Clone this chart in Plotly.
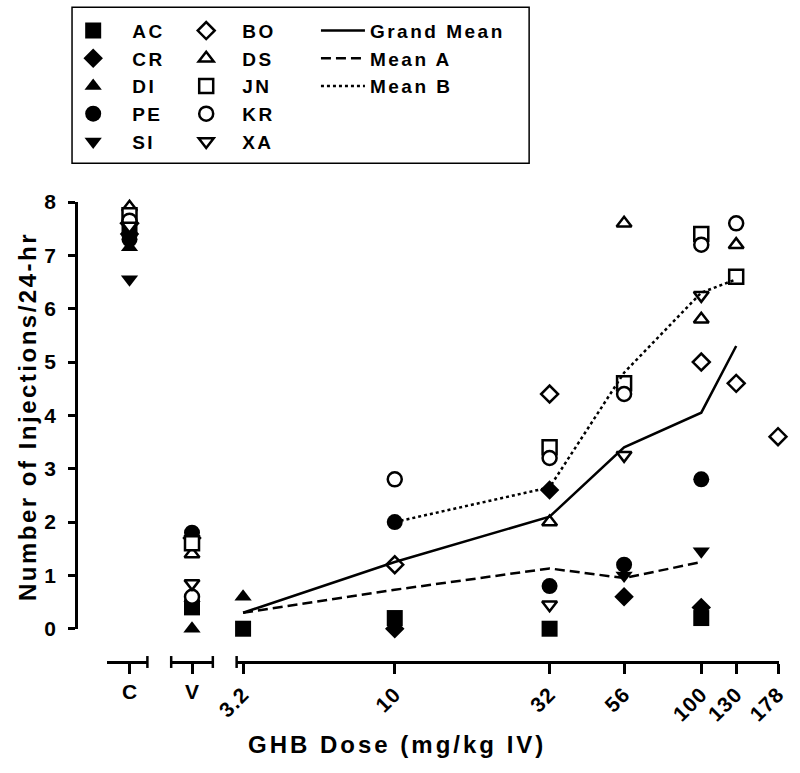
import plotly.graph_objects as go

# ---------------- data ----------------
doses = [3.2, 10, 32, 56, 100, 130, 178]
dose_labels = ["3.2", "10", "32", "56", "100", "130", "178"]

# group A (filled symbols)
AC = [0.0, 0.2, 0.0, None, 0.2, None, None]
CR = [None, 0.0, 2.6, 0.6, 0.4, None, None]
DI = [0.6, None, None, None, None, None, None]
PE = [None, 2.0, 0.8, 1.2, 2.8, None, None]
SI = [None, None, None, 1.0, 1.45, None, None]
# group B (open symbols)
BO = [None, 1.2, 4.4, None, 5.0, 4.6, 3.6]
DS = [None, None, 2.0, 7.6, 5.8, 7.2, None]
JN = [None, None, 3.4, 4.6, 7.4, 6.6, None]
KR = [None, 2.8, 3.2, 4.4, 7.2, 7.6, None]
XA = [None, None, 0.45, 3.25, 6.25, None, None]

subjects = ["AC", "CR", "DI", "PE", "SI", "BO", "DS", "JN", "KR", "XA"]
# control (C) and vehicle (V) values, same order as subjects
control_vals = [7.5, 7.4, 7.15, 7.3, 6.55, 7.6, 7.9, 7.75, 7.65, 7.55]
vehicle_vals = [0.4, 1.7, 0.0, 1.8, 0.45, None, 1.4, 1.6, 0.6, 0.85]

grand_mean = [0.3, 1.25, 2.1, 3.4, 4.05, 5.3]      # 3.2 .. 130
mean_a = [0.3, 0.73, 1.13, 0.95, 1.25]              # 3.2 .. 100
mean_b = [2.0, 2.65, 4.8, 6.3, 6.55]                # 10 .. 130

symbols = ["square", "diamond", "triangle-up", "circle", "triangle-down",
           "diamond", "triangle-up", "square", "circle", "triangle-down"]
dose_series = [AC, CR, DI, PE, SI, BO, DS, JN, KR, XA]

# ---------------- geometry helpers (pixels) ----------------
W, H = 800, 773
L, R, T, B = 76, 15, 199, 111
PW, PH = W - L - R, H - T - B


def px(xp):
    return (xp - L) / PW


def py(yp):
    return (H - B - yp) / PH


FONT = "Liberation Sans, Arial, sans-serif"


def ls(text, sp):
    return '<span style="letter-spacing:%gpx">%s</span>' % (sp, text)


fig = go.Figure()

for i, name in enumerate(subjects):
    filled = i < 5
    sym = symbols[i]
    size = 16 if sym in ("square", "circle") else 15
    if filled:
        marker = dict(symbol=sym, size=size, color="black", line=dict(width=0))
    else:
        marker = dict(symbol=sym, size=size - 2, color="white",
                      line=dict(width=2.5, color="black"))
    leg = "legend" if filled else "legend2"
    fig.add_trace(go.Scatter(
        x=doses, y=dose_series[i], mode="markers", marker=marker,
        name=ls(name, 2.5), legendgroup=name, legend=leg, showlegend=True,
        xaxis="x3", yaxis="y", cliponaxis=False, hoverinfo="skip"))
    fig.add_trace(go.Scatter(
        x=["C"], y=[control_vals[i]], mode="markers", marker=marker,
        legendgroup=name, showlegend=False, xaxis="x", yaxis="y",
        cliponaxis=False, hoverinfo="skip"))
    if vehicle_vals[i] is not None:
        fig.add_trace(go.Scatter(
            x=["V"], y=[vehicle_vals[i]], mode="markers", marker=marker,
            legendgroup=name, showlegend=False, xaxis="x2", yaxis="y",
            cliponaxis=False, hoverinfo="skip"))

fig.add_trace(go.Scatter(
    x=doses[:6], y=grand_mean, mode="lines", name=ls("Grand Mean", 2.5),
    line=dict(color="black", width=2.5), legend="legend3", legendgroup="gm",
    xaxis="x3", yaxis="y", hoverinfo="skip"))
fig.add_trace(go.Scatter(
    x=doses[:5], y=mean_a, mode="lines", name=ls("Mean A", 2.5),
    line=dict(color="black", width=2.5, dash="10px,5px"), legend="legend3",
    legendgroup="ma", xaxis="x3", yaxis="y", hoverinfo="skip"))
fig.add_trace(go.Scatter(
    x=doses[1:6], y=mean_b, mode="lines", name=ls("Mean B", 2.5),
    line=dict(color="black", width=2.5, dash="3px,3px"), legend="legend3",
    legendgroup="mb", xaxis="x3", yaxis="y", hoverinfo="skip"))

axis_common = dict(
    showline=True, linecolor="black", linewidth=2.5, ticks="outside",
    ticklen=10, tickwidth=2.5, tickcolor="black", showgrid=False,
    zeroline=False, anchor="free", position=0, fixedrange=True,
    tickfont=dict(family=FONT, size=21, color="black", weight="bold"))

legend_common = dict(
    font=dict(family=FONT, size=19, color="black", weight="bold"),
    bgcolor="rgba(0,0,0,0)", borderwidth=0, xanchor="left", yanchor="top",
    tracegroupgap=0, orientation="v")

fig.update_layout(
    width=W, height=H,
    margin=dict(l=L, r=R, t=T, b=B, pad=0),
    plot_bgcolor="white", paper_bgcolor="white",
    xaxis=dict(domain=[px(107), px(148)], type="category",
               range=[-0.56, 0.44], tickangle=0, **axis_common),
    xaxis2=dict(domain=[px(172), px(214)], type="category",
                range=[-0.5, 0.5], tickangle=0, **axis_common),
    xaxis3=dict(domain=[px(238), 1.0], type="log",
                range=[0.4841, 2.2536], tickvals=doses,
                ticktext=[ls(t, 1) for t in dose_labels], tickangle=-45,
                **axis_common),
    yaxis=dict(domain=[py(628.5), 1.0], range=[0, 8], dtick=1,
               showline=True, linecolor="black", linewidth=2.5,
               ticks="outside", ticklen=7, tickwidth=2.5, tickcolor="black",
               showgrid=False, zeroline=False, anchor="free", position=0,
               fixedrange=True, ticklabelstandoff=8,
               tickfont=dict(family=FONT, size=21, color="black",
                             weight="bold")),
    legend=dict(x=px(54), y=py(7.5), itemwidth=68, **legend_common),
    legend2=dict(x=px(171), y=py(7.5), itemwidth=62, **legend_common),
    legend3=dict(x=px(318), y=py(7.5), itemwidth=44, **legend_common),
    showlegend=True,
)

# legend frame
fig.add_shape(type="rect", xref="paper", yref="paper",
              x0=px(72), x1=px(533), y0=py(160), y1=py(3),
              line=dict(color="black", width=1.5), fillcolor="rgba(0,0,0,0)")

# end caps of the broken x-axis segments
cap = 6 / PH
for ref, xs in (("x domain", [1]), ("x2 domain", [0, 1]), ("x3 domain", [0])):
    for xv in xs:
        fig.add_shape(type="line", xref=ref, yref="paper", x0=xv, x1=xv,
                      y0=-cap, y1=cap, line=dict(color="black", width=2.5))

fig.add_annotation(
    text=ls("GHB Dose (mg/kg IV)", 3), x=px(400), y=py(745),
    xref="paper", yref="paper", showarrow=False, xanchor="center",
    yanchor="middle",
    font=dict(family=FONT, size=24, color="black", weight="bold"))
fig.add_annotation(
    text=ls("Number of Injections/24-hr", 2.5), x=px(27), y=py(415),
    xref="paper", yref="paper", showarrow=False, xanchor="center",
    yanchor="middle", textangle=-90,
    font=dict(family=FONT, size=24, color="black", weight="bold"))

fig.write_html("out.html", config={"displayModeBar": False},
               post_script="document.body.style.margin='0';"
                           "document.body.style.overflow='hidden';")
